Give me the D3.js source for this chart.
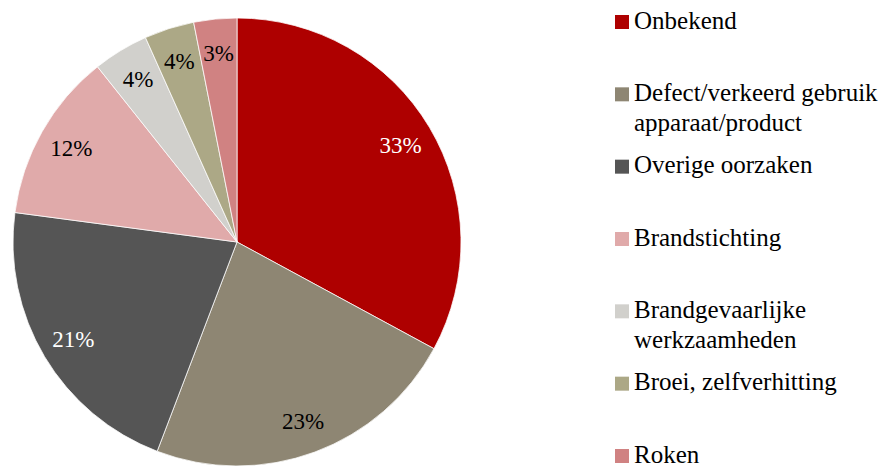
<!DOCTYPE html>
<html>
<head>
<meta charset="utf-8">
<script src="https://cdn.jsdelivr.net/npm/d3@7"></script>
<style>
  body { margin: 0; background: #fff; }
  #wrap { position: relative; width: 895px; height: 468px; }
  #chart { position: absolute; left: 0; top: 0; }
  .lbl, .leg { position: absolute; white-space: nowrap; }
  .lbl { font-size: 23px; line-height: 1; transform: translate(-50%, -50%); }
  .leg { font-size: 25px; line-height: 30px; color: #000; }
</style>
</head>
<body style="font-family:serif">
<div id="wrap" style="font-family:serif">
<svg id="chart" width="895" height="468"></svg>
</div>
<script>
// oorzaken van brand, aandeel in procenten
var categories = ["Onbekend", "Defect/verkeerd gebruik apparaat/product", "Overige oorzaken",
  "Brandstichting", "Brandgevaarlijke werkzaamheden", "Broei, zelfverhitting", "Roken"];
var values = [32.9, 22.9, 21.3, 12.2, 4.0, 3.6, 3.1];
var legendLines = [["Onbekend"], ["Defect/verkeerd gebruik", "apparaat/product"], ["Overige oorzaken"],
  ["Brandstichting"], ["Brandgevaarlijke", "werkzaamheden"], ["Broei, zelfverhitting"], ["Roken"]];
var colors = ["#ae0000", "#8e8673", "#555555", "#e0aaaa", "#d1d0cc", "#aca886", "#d08282"];
var labelColors = ["#fff", "#000", "#fff", "#000", "#000", "#000", "#000"];

var svg = d3.select("#chart");
var wrap = d3.select("#wrap");
var cx = 237, cy = 242, radius = 224;

var color = d3.scaleOrdinal().domain(categories).range(colors);

var pie = d3.pie().sort(null).value(function (d) { return d.value; });
var arc = d3.arc().innerRadius(0).outerRadius(radius);
var labelArc = d3.arc().innerRadius(radius * 0.85).outerRadius(radius * 0.85);

var data = categories.map(function (c, i) { return { name: c, value: values[i], i: i }; });
var arcs = pie(data);

var g = svg.append("g").attr("transform", "translate(" + cx + "," + cy + ")");

g.selectAll("path.slice")
  .data(arcs)
  .enter().append("path")
  .attr("class", "slice")
  .attr("d", arc)
  .attr("fill", function (d) { return color(d.data.name); })
  .attr("stroke", "#fff")
  .attr("stroke-width", 0.75);

// percentages
wrap.selectAll("div.lbl")
  .data(arcs)
  .enter().append("div")
  .attr("class", "lbl")
  .attr("style", function (d) {
    var c = labelArc.centroid(d);
    return "font-family:serif;left:" + (cx + c[0]) + "px;top:" + (cy + c[1]) + "px;color:" + labelColors[d.data.i];
  })
  .text(function (d) { return Math.round(d.data.value) + "%"; });

// legenda
var legendY = d3.scalePoint().domain(categories).range([29, 463]);

svg.append("g").selectAll("rect")
  .data(data)
  .enter().append("rect")
  .attr("x", 615)
  .attr("y", function (d) { return legendY(d.name) - 14; })
  .attr("width", 14)
  .attr("height", 14)
  .attr("fill", function (d) { return color(d.name); });

wrap.selectAll("div.leg")
  .data(data)
  .enter().append("div")
  .attr("class", "leg")
  .attr("style", function (d) { return "font-family:serif;left:634px;top:" + (legendY(d.name) - 23.5) + "px"; })
  .html(function (d) { return legendLines[d.i].join("<br>"); });
</script>
</body>
</html>
